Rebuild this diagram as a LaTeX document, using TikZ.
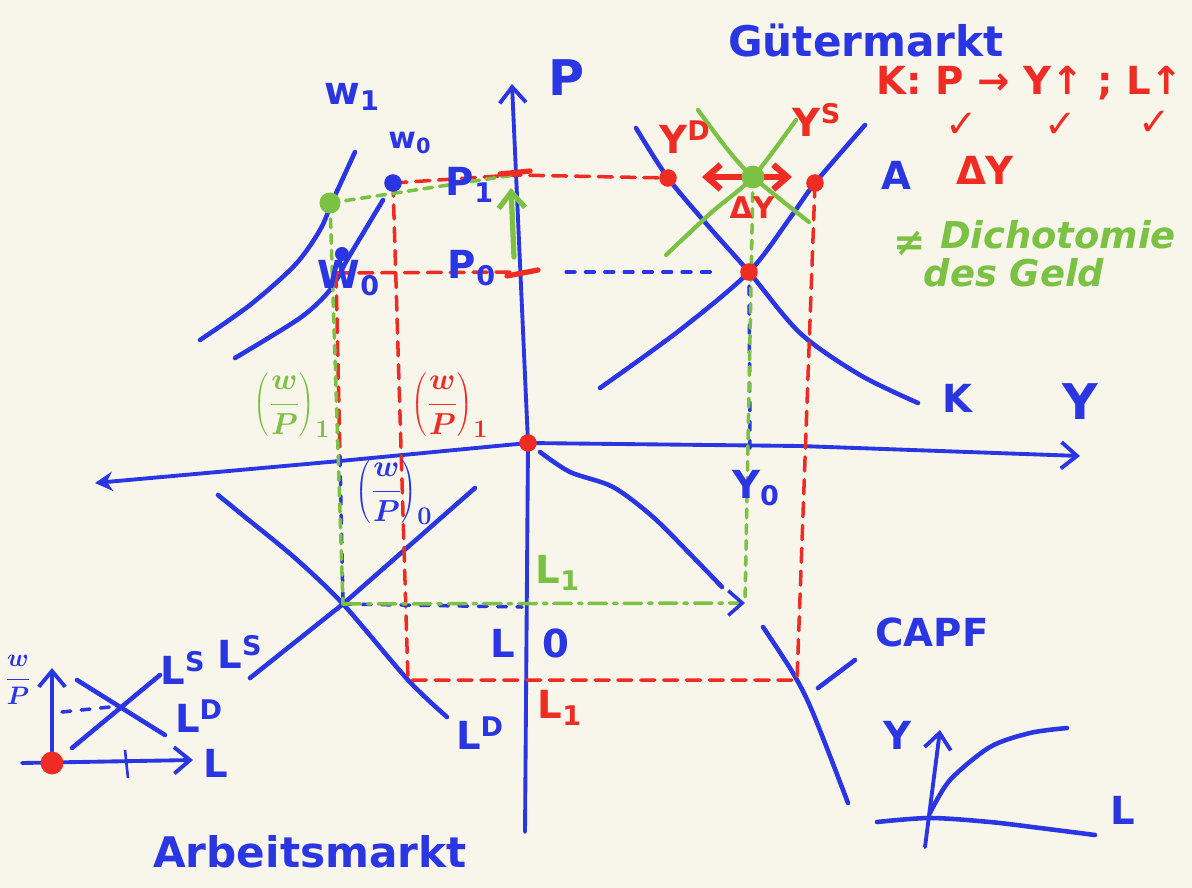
\documentclass[tikz,border=0pt]{standalone}
\usepackage{fontspec}
\setmainfont{DejaVu Sans}
\usepackage{tikz}
\usetikzlibrary{
  arrows.meta,
  positioning,
  calc,
}
\definecolor{paper}{HTML}{F8F5EB}
\definecolor{pen}{HTML}{2B36E3}
\definecolor{ink}{HTML}{EE2C24}
\definecolor{leaf}{HTML}{7BC143}

\begin{document}
\begin{tikzpicture}[
  x=0.02cm, y=-0.02cm,
  font=\fontsize{22}{26}\selectfont\bfseries\boldmath,
  every node/.style={align=center},
  curve/.style={draw=pen, line width=2.6pt, line cap=round, line join=round},
  axis/.style={draw=pen, line width=2.2pt, line cap=round},
  barb/.style={-{Straight Barb[length=9pt, width=15pt]}},
  redguide/.style={draw=ink, line width=2pt, line cap=round, dash pattern=on 8pt off 5pt},
  greenguide/.style={draw=leaf, line width=2pt, line cap=round, dash pattern=on 5pt off 4pt},
  greendashdot/.style={draw=leaf, line width=2pt, line cap=round,
    dash pattern=on 10pt off 4pt on 2pt off 4pt},
  blueguide/.style={draw=pen, line width=2pt, line cap=round, dash pattern=on 5pt off 6pt},
  shiftline/.style={draw=leaf, line width=2.4pt, line cap=round},
  dot/.style={circle, inner sep=0pt, minimum size=10pt},
  bluelbl/.style={text=pen},
  redlbl/.style={text=ink},
  greenlbl/.style={text=leaf, font=\fontsize{21}{25}\selectfont\bfseries\itshape},
  fraclbl/.style={font=\fontsize{19}{22}\selectfont\boldmath},
]

\useasboundingbox (0,0) rectangle (1192,888);
\fill[paper] (0,0) rectangle (1192,888);

%% key points
\coordinate (O)    at (528,443);
\coordinate (E0)   at (749,272);
\coordinate (E1)   at (753,177);
\coordinate (YD1)  at (668,178);
\coordinate (YS1)  at (815,183);
\coordinate (W0pt) at (393,183);
\coordinate (W1pt) at (330,203);
\coordinate (P1)   at (514,175);
\coordinate (P0)   at (517,272);
\coordinate (W0P0) at (336,273);
\coordinate (W0ax) at (340,457);
\coordinate (LE)   at (343,604);
\coordinate (LR)   at (408,680);
\coordinate (CR)   at (797,680);
\coordinate (Y0)   at (745,603);
\coordinate (Y0ax) at (750,448);

%% axes
\draw[axis, -{Straight Barb[length=9pt, width=15pt]}] (525,832) -- (O) -- (512,84);
\draw[axis, {Stealth[length=10pt, width=11pt]}-{Straight Barb[length=9pt, width=15pt]}]
  (95,483) -- (340,461) -- (O) -- (800,446) -- (1080,456);
\node[bluelbl, font=\fontsize{28}{30}\selectfont\bfseries] (lblP) at (567,78) {P};
\node[bluelbl, font=\fontsize{28}{30}\selectfont\bfseries] (lblY) at (1080,402) {Y};

%% Gütermarkt
\draw[curve] plot[smooth] coordinates {(636,128) (668,178) (710,228) (749,272) (800,333) (860,375) (918,403)};
\draw[curve] plot[smooth] coordinates {(600,388) (680,330) (749,272) (790,218) (815,183) (865,125)};
\draw[shiftline] plot[smooth] coordinates {(698,110) (728,150) (753,177) (809,222)};
\draw[shiftline] plot[smooth] coordinates {(666,255) (712,212) (753,177) (796,120)};
\node[bluelbl] (lblK) at (957,398) {K};

%% Arbeitsmarkt: w-curves
\draw[curve] plot[smooth] coordinates {(200,340) (250,305) (295,265) (320,230) (333,200) (355,152)};
\draw[curve] plot[smooth] coordinates {(235,358) (300,318) (330,290) (347,260) (365,230) (383,200)};
\draw[curve] plot[smooth] coordinates {(218,495) (245,517) (295,558) (343,604) (408,680) (447,717)};
\draw[curve] (250,678) -- (LE) -- (475,488);

%% production curve
\draw[curve] plot[smooth] coordinates {(540,452) (570,472) (613,487) (653,517) (693,557) (722,587)};
\draw[curve] plot[smooth] coordinates {(763,627) (793,673) (813,713) (848,803)};
\draw[curve] (818,688) -- (855,660);

%% guides
\draw[redguide] (W0pt) -- (P1) -- (YD1);
\draw[redguide] (YS1) -- (CR) -- (LR) -- (W0pt);
\draw[redguide] (W0P0) -- (P0);
\draw[redguide] (W0P0) -- (W0ax);
\draw[blueguide, shorten <=28pt, shorten >=22pt] (P0) -- (E0);
\draw[blueguide, shorten <=8pt] (E0) -- (Y0ax);
\draw[blueguide] (W0ax) -- (LE);
\draw[blueguide] (LE) -- (522,607);
\draw[greenguide] (W1pt) -- (P1);
\draw[greenguide] (W1pt) -- (LE);
\draw[greenguide] (E1) -- (Y0);
\draw[greendashdot, -{Straight Barb[length=8pt, width=14pt, color=pen]}] (LE) -- (Y0);

%% price and output shifts
\draw[draw=leaf, line width=3pt, line cap=round, barb] (514,257) -- (511,188);
\draw[draw=ink, line width=3.5pt, line cap=round,
  {Straight Barb[length=8pt, width=14pt]}-{Straight Barb[length=8pt, width=14pt]}]
  (702,177) -- (792,177);
\draw[draw=ink, line width=3pt, line cap=round] (500,174) -- (530,171);
\draw[draw=ink, line width=3pt, line cap=round] (507,276) -- (538,270);

%% dots
\node[dot, fill=ink] (dO)   at (O)    {};
\node[dot, fill=ink] (dE0)  at (E0)   {};
\node[dot, fill=ink] (dYD1) at (YD1)  {};
\node[dot, fill=ink] (dYS1) at (YS1)  {};
\node[dot, fill=leaf, minimum size=13pt] (dE1) at (E1) {};
\node[dot, fill=leaf, minimum size=12pt] (dW1) at (W1pt) {};
\node[dot, fill=pen] (dW0)  at (W0pt) {};
\node[dot, fill=pen, minimum size=8pt] (dW0c) at (342,254) {};

%% labels
\node[bluelbl, font=\fontsize{24}{28}\selectfont\bfseries] (title1) at (866,40) {Gütermarkt};
\node[redlbl] (rule) at (1030,83) {K: P → Y↑ ; L↑};
\node[redlbl] (chk1) at (962,125) {✓};
\node[redlbl] (chk2) at (1061,125) {✓};
\node[redlbl] (chk3) at (1155,123) {✓};
\node[bluelbl] (lblA) at (896,175) {A};
\node[redlbl] (dY) at (985,170) {ΔY};
\node[text=leaf] (neq) at (910,243) {≠};
\node[greenlbl] (dich) at (1058,235) {Dichotomie};
\node[greenlbl] (geld) at (1014,273) {des Geld};
\node[redlbl] (lblYD) at (685,137) {Y\textsuperscript{D}};
\node[redlbl] (lblYS) at (817,120) {Y\textsuperscript{S}};
\node[redlbl, font=\fontsize{17}{20}\selectfont\bfseries] (dYs) at (752,208) {ΔY};

\node[bluelbl] (lblw1) at (352,97) {w\textsubscript{1}};
\node[bluelbl, font=\fontsize{17}{20}\selectfont\bfseries] (lblw0) at (410,143) {w\textsubscript{0}};
\node[bluelbl] (lblW0) at (349,278) {W\textsubscript{0}};
\node[bluelbl] (lblP1) at (470,185) {P\textsubscript{1}};
\node[bluelbl] (lblP0) at (472,268) {P\textsubscript{0}};
\node[text=leaf, fraclbl] (wpg) at (292,405) {$\displaystyle\left(\frac{w}{P}\right)_{1}$};
\node[text=ink, fraclbl] (wpr) at (450,405) {$\displaystyle\left(\frac{w}{P}\right)_{1}$};
\node[text=pen, fraclbl] (wpb) at (394,492) {$\displaystyle\left(\frac{w}{P}\right)_{0}$};
\node[bluelbl] (lblY0) at (756,488) {Y\textsubscript{0}};
\node[text=leaf] (lblL1g) at (558,573) {L\textsubscript{1}};
\node[bluelbl] (lblL0) at (530,643) {L\hspace{16pt}0};
\node[redlbl] (lblL1r) at (560,708) {L\textsubscript{1}};
\node[bluelbl] (lblLD) at (480,733) {L\textsuperscript{D}};
\node[bluelbl] (lblLS) at (240,652) {L\textsuperscript{S}};
\node[bluelbl] (lblCAPF) at (932,632) {CAPF};
\node[bluelbl, font=\fontsize{24}{28}\selectfont\bfseries] (title2) at (310,852) {Arbeitsmarkt};

%% inset: Arbeitsmarkt
\draw[axis, barb] (52,765) -- (52,668);
\draw[axis, barb] (22,763) -- (193,760);
\draw[curve] (72,748) -- (160,675);
\draw[curve] (77,680) -- (165,735);
\draw[blueguide] (62,712) -- (110,707);
\draw[draw=pen, line width=1.5pt] (125,750) -- (128,778);
\node[dot, fill=ink, minimum size=13pt] (dIn) at (52,763) {};
\node[text=pen, font=\fontsize{15}{18}\selectfont\boldmath] (inWP) at (18,680) {$\displaystyle\frac{w}{P}$};
\node[bluelbl] (inL) at (216,763) {L};
\node[bluelbl] (inLS) at (183,668) {L\textsuperscript{S}};
\node[bluelbl] (inLD) at (199,716) {L\textsuperscript{D}};

%% inset: production function
\draw[axis, barb] (925,847) -- (940,730);
\draw[curve] plot[smooth] coordinates {(877,822) (930,818) (990,822) (1040,828) (1095,835)};
\draw[curve] plot[smooth] coordinates {(930,813) (950,780) (990,747) (1030,733) (1067,728)};
\node[bluelbl] (inY) at (897,735) {Y};
\node[bluelbl] (inL2) at (1123,810) {L};

\end{tikzpicture}
\end{document}
